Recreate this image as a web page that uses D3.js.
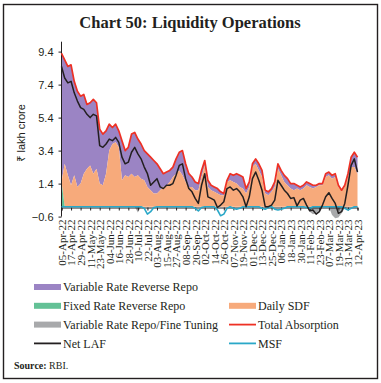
<!DOCTYPE html>
<html>
<head>
<meta charset="utf-8">
<title>Liquidity Operations</title>
<script src="https://cdn.jsdelivr.net/npm/d3@7"></script>
<style>
  body { margin: 0; background: #fff; }
  text { fill: #231f20; }
</style>
</head>
<body>
<script>
    // readings every 4 days, 05-Apr-22 .. 12-Apr-23 (94 points)
    var startDate = "2022-04-05";
    var stepDays = 4;

    var totalAbsorption = [9.3,8.9,8.5,8.6,7.6,7.0,6.7,6.8,6.2,6.3,
        6.5,6.3,4.7,4.4,4.6,5.0,4.8,5.0,4.6,4.0,
        3.4,3.6,4.4,4.5,4.1,3.8,3.4,3.2,3.0,2.8,
        2.6,2.3,2.0,2.1,2.2,2.4,2.9,3.3,3.4,2.6,
        2.0,1.8,1.5,1.4,2.2,2.8,1.6,1.3,1.2,1.1,
        0.9,0.8,1.6,2.0,1.9,2.0,1.9,1.8,1.1,1.5,
        2.6,2.9,2.6,2.2,1.0,0.9,1.1,1.5,2.6,2.2,
        1.9,1.7,1.4,1.4,1.3,1.2,1.3,1.5,1.4,1.3,
        1.3,1.4,1.4,2.0,2.1,1.9,2.0,1.3,1.0,1.3,
        2.0,3.0,3.3,3.0];

    var dailySDF = [0,2.6,1.9,1.3,1.9,1.2,1.4,2.0,2.3,2.5,
        2.0,2.3,1.4,1.3,2.0,3.4,3.8,3.9,3.6,1.6,
        1.9,1.8,2.0,1.8,1.9,1.7,1.6,1.2,1.0,0.8,
        0.8,1.0,1.2,1.3,1.5,1.8,2.0,2.2,1.9,1.5,
        1.2,1.2,1.0,1.0,1.8,2.5,1.2,1.0,0.9,0.8,
        0.7,0.7,1.5,1.6,1.5,1.4,1.2,1.1,0.8,1.2,
        2.4,2.6,2.2,1.8,0.8,0.7,0.9,1.2,2.3,1.9,
        1.5,1.3,1.1,1.0,1.1,1.0,1.1,1.3,1.2,1.1,
        1.2,1.3,1.3,1.8,1.9,1.7,1.8,1.2,1.0,1.2,
        1.8,2.4,2.4,2.0];

    var fixedRateRR = [1.5,0,0,0,0,0,0,0,0,0,
        0,0,0,0,0,0,0,0,0,0,
        0,0,0,0,0,0,0,0,0,0,
        0,0,0,0,0,0,0,0,0,0,
        0,0,0,0,0,0,0,0,0,0,
        0,0,0,0,0,0,0,0,0,0,
        0,0,0,0,0,0,0,0,0,0,
        0,0,0,0,0,0,0,0,0,0,
        0,0,0,0,0,0,0,0,0,0,
        0,0,0,0];

    var varRateRepo = [0,0,0,0,0,0,0,0,0,0,
        0,0,0,0,0,0,0,0,0,0,
        0,0,0,0,-0.35,0,0,0,0,0,
        0,0,0,0,0,0,0,0,0,0,
        0,0,0,0,0,0,0,0,0,0,
        0,0,0,0,0,0,0,0,0,0,
        0,0,0,0,0,0,0,0,0,0,
        0,0,0,0,0,0,0,0,-0.3,-0.45,
        -0.4,-0.2,0,0,0,-0.5,-0.7,-0.65,-0.4,-0.1,
        0,0,0,0];

    var netLAF = [8.5,7.8,7.5,7.6,6.9,6.4,6.0,5.9,5.6,5.4,
        5.6,5.5,3.7,3.6,3.8,4.1,4.0,4.2,3.9,3.0,
        2.6,2.7,3.3,3.6,3.2,2.9,2.4,2.0,1.3,1.5,
        1.7,1.2,1.1,1.3,1.3,1.4,1.9,2.5,2.6,1.7,
        1.1,0.9,0.5,0.2,1.3,2.0,0.6,0.5,0.4,-0.05,
        0.1,0.3,1.1,1.2,1.0,1.1,0.9,0.6,0.0,0.6,
        1.7,2.1,1.6,1.0,0.0,0.0,0.1,0.4,1.6,1.3,
        1.0,0.8,0.5,0.55,0.05,0.4,0.5,0.1,-0.25,-0.2,
        -0.45,-0.3,0.1,0.6,0.85,0.5,0.2,-0.4,-0.3,0.2,
        1.3,2.5,2.9,2.1];

    var msf = [0,0,0,0,0,0,0,0,0,0,
        0,0,0,0,0,0,0,0,0,0,
        0,0,0,0,0,0,-0.1,-0.45,-0.3,-0.05,
        0,0,0,0,0,0,0,0,0,0,
        0,0,-0.1,-0.25,-0.05,0,0,0,0,-0.2,
        -0.55,-0.45,-0.1,0,-0.1,-0.15,-0.1,0,0,0,
        0,0,0,-0.1,-0.15,-0.05,0,-0.15,-0.2,-0.15,
        -0.1,0,0,0,0,0,0,-0.05,-0.1,0,
        0,0,0,0,0,0,0,0,0,-0.1,
        -0.2,-0.1,0,0];

    var yTicks = [-0.6, 1.4, 3.4, 5.4, 7.4, 9.4];

    var width = 381, height = 383;
    var purple = "#9b84c4", green = "#63c196", orange = "#f7aa7b",
        grey = "#a8a9ab", red = "#ee3124", ink = "#231f20", cyan = "#2aa8c8";

    var parse = d3.timeParse("%Y-%m-%d");
    var t0 = parse(startDate);
    var rows = totalAbsorption.map(function(d, i){
        return {
            date: d3.timeDay.offset(t0, i * stepDays),
            total: d,
            sdf: dailySDF[i],
            frrr: fixedRateRR[i],
            vrr: varRateRepo[i],
            laf: netLAF[i],
            msf: msf[i]
        };
    });

    var svg = d3.select("body").append("svg")
        .attr("width", width)
        .attr("height", height);

    svg.append("rect")
        .attr("x", 3.5).attr("y", 4.5)
        .attr("width", 374).attr("height", 374)
        .attr("fill", "none")
        .attr("stroke", ink)
        .attr("stroke-width", 1.4);

    svg.append("text")
        .attr("x", 190).attr("y", 28)
        .attr("text-anchor", "middle")
        .attr("font-family", "'Liberation Serif', serif")
        .attr("font-weight", "bold")
        .attr("font-size", "16.5px")
        .text("Chart 50: Liquidity Operations");

    var x = d3.scaleTime()
        .domain([rows[0].date, rows[rows.length - 1].date])
        .range([61.5, 357.5]);
    var y = d3.scaleLinear()
        .domain([-0.6, 10])
        .range([216.6, 41.7]);

    // stacked areas: fixed rate RR, SDF, then variable rate RR up to total
    var area = function(lo, hi){
        return d3.area()
            .x(function(d){ return x(d.date); })
            .y0(function(d){ return y(lo(d)); })
            .y1(function(d){ return y(hi(d)); });
    };

    svg.append("path").datum(rows)
        .attr("fill", purple)
        .attr("d", area(function(d){ return d.frrr + d.sdf; },
                        function(d){ return Math.max(d.total, d.frrr + d.sdf); }));
    svg.append("path").datum(rows)
        .attr("fill", orange)
        .attr("d", area(function(d){ return d.frrr; },
                        function(d){ return d.frrr + d.sdf; }));
    svg.append("path").datum(rows)
        .attr("fill", green)
        .attr("d", area(function(d){ return 0; },
                        function(d){ return d.frrr; }));
    svg.append("path").datum(rows)
        .attr("fill", grey)
        .attr("d", area(function(d){ return 0; },
                        function(d){ return d.vrr; }));

    // axes
    var xAxis = d3.axisBottom(x)
        .ticks(d3.timeDay.every(12))
        .tickValues(d3.range(0, 373, 12).map(function(k){ return d3.timeDay.offset(t0, k); }))
        .tickSize(3)
        .tickFormat(d3.timeFormat("%d-%b-%y"));

    var gx = svg.append("g")
        .attr("transform", "translate(0," + (y(0) + 0.8) + ")")
        .call(xAxis);
    gx.select(".domain").attr("stroke", ink);
    gx.selectAll(".tick line").attr("stroke", ink);
    gx.selectAll(".tick text")
        .attr("font-family", "'Liberation Serif', serif")
        .attr("font-size", "11px")
        .attr("fill", ink)
        .attr("transform", "rotate(-90)")
        .attr("text-anchor", "end")
        .attr("x", -12)
        .attr("y", 0)
        .attr("dy", "0.35em");

    var gy = svg.append("g")
        .attr("transform", "translate(61.5,0)")
        .call(d3.axisLeft(y).tickValues(yTicks).tickSize(3).tickPadding(5)
            .tickFormat(d3.format(".1f")));
    gy.select(".domain").attr("stroke", ink).attr("d", "M0," + y(10) + "V" + y(-0.6));
    gy.selectAll(".tick line").attr("stroke", ink);
    gy.selectAll(".tick text")
        .attr("font-family", "'Liberation Sans', 'Noto Sans', sans-serif")
        .attr("font-size", "11px")
        .attr("fill", ink);

    svg.append("text")
        .attr("transform", "translate(25,133) rotate(-90)")
        .attr("text-anchor", "middle")
        .attr("font-family", "'Liberation Sans', 'Noto Sans', sans-serif")
        .attr("font-size", "11px")
        .text("₹ lakh crore");

    // lines
    var line = function(f){
        return d3.line()
            .x(function(d){ return x(d.date); })
            .y(function(d){ return y(f(d)); });
    };
    svg.append("path").datum(rows)
        .attr("fill", "none").attr("stroke", red).attr("stroke-width", 1.7)
        .attr("stroke-linejoin", "round")
        .attr("d", line(function(d){ return d.total; }));
    svg.append("path").datum(rows)
        .attr("fill", "none").attr("stroke", cyan).attr("stroke-width", 1.6)
        .attr("stroke-linejoin", "round")
        .attr("d", line(function(d){ return d.msf; }));
    svg.append("path").datum(rows)
        .attr("fill", "none").attr("stroke", ink).attr("stroke-width", 1.5)
        .attr("stroke-linejoin", "round")
        .attr("d", line(function(d){ return d.laf; }));

    // legend
    var legend = [
        {name: "Variable Rate Reverse Repo", type: "box", color: purple, col: 0, row: 0},
        {name: "Fixed Rate Reverse Repo", type: "box", color: green, col: 0, row: 1},
        {name: "Daily SDF", type: "box", color: orange, col: 1, row: 1},
        {name: "Variable Rate Repo/Fine Tuning", type: "box", color: grey, col: 0, row: 2},
        {name: "Total Absorption", type: "line", color: red, col: 1, row: 2},
        {name: "Net LAF", type: "line", color: ink, col: 0, row: 3},
        {name: "MSF", type: "line", color: cyan, col: 1, row: 3}
    ];
    var lg = svg.selectAll(".legend").data(legend).enter().append("g")
        .attr("class", "legend")
        .attr("transform", function(d){
            return "translate(" + (d.col ? 229 : 34) + "," + (287 + d.row * 18.8) + ")";
        });
    lg.filter(function(d){ return d.type === "box"; }).append("rect")
        .attr("x", 0).attr("y", -3).attr("width", 27).attr("height", 6)
        .attr("fill", function(d){ return d.color; });
    lg.filter(function(d){ return d.type === "line"; }).append("line")
        .attr("x1", 0).attr("x2", 27).attr("y1", 0).attr("y2", 0)
        .attr("stroke", function(d){ return d.color; })
        .attr("stroke-width", 1.8);
    lg.append("text")
        .attr("x", 29).attr("y", 0).attr("dy", "0.35em")
        .attr("font-family", "'Liberation Serif', serif")
        .attr("font-size", "12px")
        .text(function(d){ return d.name; });

    var src = svg.append("text")
        .attr("x", 14).attr("y", 369)
        .attr("font-family", "'Liberation Serif', serif")
        .attr("font-size", "10px");
    src.append("tspan").attr("font-weight", "bold").text("Source:");
    src.append("tspan").text(" RBI.");
</script>
</body>
</html>
